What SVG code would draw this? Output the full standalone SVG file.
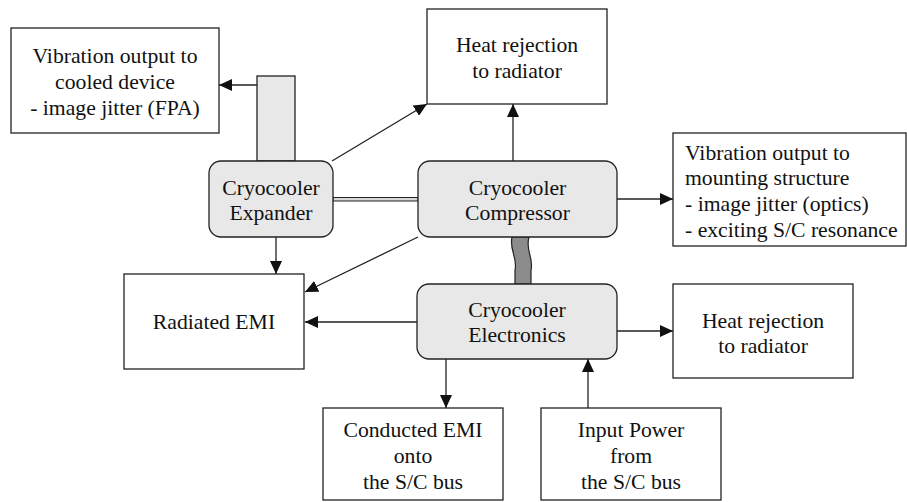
<svg xmlns="http://www.w3.org/2000/svg" width="907" height="502" viewBox="0 0 907 502">
  <style>
    .box { fill: #ffffff; stroke: #222222; stroke-width: 1.3; }
    .unit { fill: #e8e8e8; stroke: #222222; stroke-width: 1.3; }
    .wire { fill: none; stroke: #222222; stroke-width: 1.3; }
    text { font-family: 'Liberation Serif', 'Times New Roman', serif; font-size: 21.7px; fill: #111111; text-anchor: middle; }
    text.tl { text-anchor: start; }
  </style>
  <defs>
    <marker id="arrow" markerUnits="userSpaceOnUse" markerWidth="14" markerHeight="12" refX="13" refY="6" orient="auto">
      <path d="M0,0 L13,6 L0,12 Z" fill="#111111"/>
    </marker>
  </defs>

  <!-- mechanical links: cold finger, transfer line, flex cable -->
  <g id="links">
    <rect x="257" y="76" width="38" height="85" class="unit"/>
    <rect x="333" y="197.5" width="85" height="3.5" fill="#d8d8d8" stroke="#222222" stroke-width="1"/>
    <path d="M512,237 C509,250 518,258 515,270 L515,284 L531,284 L531,270 C534,258 525,250 529,237 Z" fill="#8c8c8c" stroke="#222222" stroke-width="1.2"/>
  </g>

  <!-- connectors -->
  <g id="connectors" class="wire">
    <line x1="257" y1="85" x2="219" y2="85" marker-end="url(#arrow)"/>
    <line x1="332" y1="161" x2="427" y2="104" marker-end="url(#arrow)"/>
    <line x1="513" y1="161" x2="513" y2="104" marker-end="url(#arrow)"/>
    <line x1="617" y1="199" x2="673" y2="199" marker-end="url(#arrow)"/>
    <line x1="276" y1="237" x2="276" y2="274" marker-end="url(#arrow)"/>
    <line x1="418" y1="237" x2="305" y2="292" marker-end="url(#arrow)"/>
    <line x1="417" y1="322" x2="305" y2="322" marker-end="url(#arrow)"/>
    <line x1="617" y1="331" x2="673" y2="331" marker-end="url(#arrow)"/>
    <line x1="446" y1="359" x2="446" y2="408" marker-end="url(#arrow)"/>
    <line x1="588" y1="408" x2="588" y2="359" marker-end="url(#arrow)"/>
  </g>

  <g id="vib-cooled">
    <rect x="11" y="28" width="208" height="105" class="box"/>
    <text x="115" y="63">Vibration output to</text>
    <text x="115" y="89">cooled device</text>
    <text x="115" y="115">- image jitter (FPA)</text>
  </g>

  <g id="heat-top">
    <rect x="427" y="9" width="180" height="95" class="box"/>
    <text x="517" y="52">Heat rejection</text>
    <text x="517" y="78">to radiator</text>
  </g>

  <g id="expander">
    <rect x="209" y="161" width="124" height="76" rx="12" class="unit"/>
    <text x="271" y="195">Cryocooler</text>
    <text x="271" y="220">Expander</text>
  </g>

  <g id="compressor">
    <rect x="418" y="161" width="199" height="76" rx="12" class="unit"/>
    <text x="517.5" y="195">Cryocooler</text>
    <text x="517.5" y="220">Compressor</text>
  </g>

  <g id="vib-mount">
    <rect x="673" y="133" width="233" height="113" class="box"/>
    <text class="tl" x="685" y="160">Vibration output to</text>
    <text class="tl" x="685" y="185">mounting structure</text>
    <text class="tl" x="685" y="211">- image jitter (optics)</text>
    <text class="tl" x="685" y="237">- exciting S/C resonance</text>
  </g>

  <g id="radiated-emi">
    <rect x="124" y="274" width="180" height="95" class="box"/>
    <text x="214" y="329">Radiated EMI</text>
  </g>

  <g id="electronics">
    <rect x="417" y="284" width="200" height="75" rx="12" class="unit"/>
    <text x="517" y="317">Cryocooler</text>
    <text x="517" y="342">Electronics</text>
  </g>

  <g id="heat-lower">
    <rect x="673" y="284" width="180" height="94" class="box"/>
    <text x="763" y="328">Heat rejection</text>
    <text x="763" y="353">to radiator</text>
  </g>

  <g id="conducted-emi">
    <rect x="323" y="408" width="180" height="92" class="box"/>
    <text x="413" y="437">Conducted EMI</text>
    <text x="413" y="463">onto</text>
    <text x="413" y="489">the S/C bus</text>
  </g>

  <g id="input-power">
    <rect x="541" y="408" width="180" height="92" class="box"/>
    <text x="631" y="437">Input Power</text>
    <text x="631" y="463">from</text>
    <text x="631" y="489">the S/C bus</text>
  </g>
</svg>
